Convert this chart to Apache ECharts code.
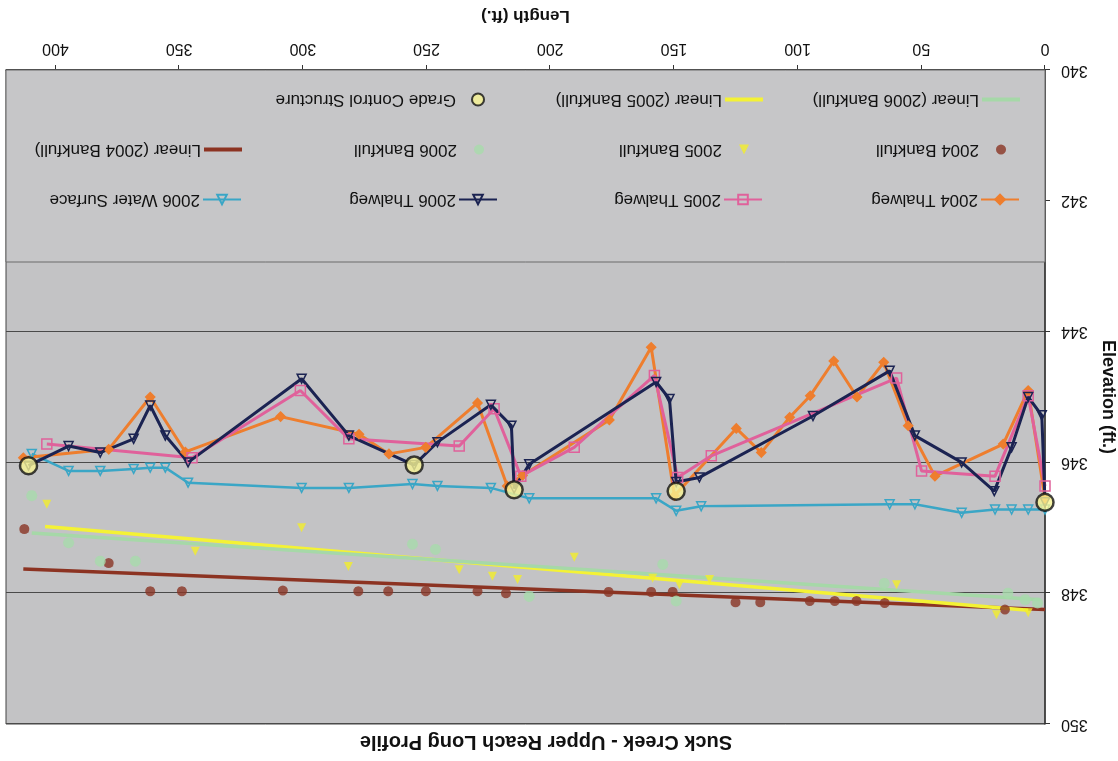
<!DOCTYPE html>
<html><head><meta charset="utf-8">
<script src="https://cdn.jsdelivr.net/npm/echarts@6/dist/echarts.min.js"></script>
<style>
html,body{margin:0;padding:0;background:#fff;}
#wrap{width:1118px;height:761px;transform:rotate(180deg);transform-origin:50% 50%;}
#chart{width:1118px;height:761px;}
</style></head><body>
<div id="wrap"><div id="chart"></div></div>
<script>
// ---- data: [length (ft), elevation (ft)] ----
const thalweg2004 = [[0,346.55],[6.8,344.9],[16.9,345.72],[44.5,346.21],[55.3,345.44],[65.2,344.47],[76,345.0],[85.4,344.45],[94.9,344.98],[103.2,345.31],[114.7,345.85],[124.8,345.48],[149.8,346.51],[159.2,344.24],[176.1,345.35],[211.2,346.2],[217.4,346.36],[229.4,345.09],[250.3,345.77],[265.2,345.87],[277.3,345.57],[309,345.3],[347.5,345.84],[361.7,345.0],[378.5,345.8],[413,345.93]];
const thalweg2005 = [[0,346.36],[6.8,344.98],[20.2,346.21],[49.9,346.13],[60,344.71],[134.9,345.9],[148.5,346.23],[157.9,344.67],[190.3,345.77],[211.9,346.21],[222.7,345.18],[236.8,345.75],[281.4,345.64],[301,344.9],[344.8,345.93],[403.5,345.72]];
const thalweg2006 = [[0,346.61],[1.3,345.28],[6.8,345.0],[13.5,345.77],[20.5,346.44],[33.7,346.0],[52.6,345.59],[62.8,344.6],[93.8,345.29],[139.7,346.23],[149.1,346.3],[151.8,345.03],[157.2,344.77],[208.5,346.03],[214.6,346.4],[215.7,345.44],[224,345.12],[245.6,345.69],[255,346.04],[281.4,345.59],[300.5,344.72],[346.4,346.0],[355.6,345.59],[361.7,345.13],[368.4,345.64],[381.9,345.85],[394.7,345.75],[410.9,346.05]];
const waterSurface2006 = [[0,346.72],[6.8,346.72],[13.5,346.72],[20.2,346.72],[33.7,346.77],[52.6,346.64],[62.8,346.64],[139,346.67],[149.1,346.74],[157.2,346.55],[208.5,346.55],[224,346.39],[245.6,346.36],[255.7,346.33],[281.4,346.39],[300.5,346.39],[346.4,346.31],[355.6,346.08],[361.7,346.08],[368.4,346.1],[381.9,346.13],[394.7,346.13],[409.6,345.87]];
const bankfull2004 = [[16.2,348.25],[64.8,348.15],[76.2,348.12],[85,348.12],[95.1,348.12],[115.1,348.14],[125.1,348.14],[150.5,347.98],[159.2,347.98],[176.4,347.98],[217.9,348.0],[229.4,347.97],[250.3,347.97],[265.5,347.97],[277.6,347.97],[308.1,347.96],[348.9,347.97],[361.7,347.97],[378.5,347.54],[412.6,347.02]];
const bankfull2005 = [[6.8,348.3],[19.6,348.33],[60,347.87],[135.6,347.79],[147.8,347.87],[158.6,347.77],[190.3,347.45],[213.2,347.79],[223.4,347.74],[236.8,347.64],[281.6,347.59],[300.5,347.0],[343.5,347.36],[403.5,346.64]];
const bankfull2006 = [[3,348.15],[8,348.1],[15,348.0],[65,347.85],[149.1,348.12],[154.5,347.56],[208.5,348.05],[246.4,347.33],[255.7,347.25],[367.7,347.51],[381.9,347.51],[394.7,347.23],[409.6,346.51]];
const trend2004 = [[0,348.25],[413,347.63]];
const trend2005 = [[6.8,348.26],[404.2,346.98]];
const trend2006 = [[2,348.1],[409.6,347.08]];
const gradeControl = [[0,346.61],[149.1,346.44],[214.6,346.42],[255,346.04],[410.9,346.05]];

const titleText = 'Suck Creek - Upper Reach Long Profile';
const xName = 'Length (ft.)';
const yName = 'Elevation (ft.)';

// ---- layout / styling ----
const FONT = '"Liberation Sans", Arial, sans-serif';
const C = {
  t04:'#ee7e2e', t05:'#e0619b', t06:'#1b2352', ws:'#3aa6c6',
  b04:'#8a3424', b05:'#f2ee2a', b06:'#a8dbab', l04:'#8c3322', l05:'#f4f235', l06:'#a6d8a8',
  gc:'#f8f492'
};
const cols = [93, 350, 615, 871];
const rows = [557, 607, 657];
const IW = 38;
// [name, col, row, itemWidth, itemHeight, icon]
const legendItems = [
  ['2004 Thalweg',0,0,IW,12],['2005 Thalweg',1,0,IW,12],['2006 Thalweg',2,0,IW,12],['2006 Water Surface',3,0,IW,12],
  ['2004 Bankfull',0,1,10,10],['2005 Bankfull',1,1,10,10],['2006 Bankfull',2,1,10,10],['Linear (2004 Bankfull)',3,1,IW,4,'rect'],
  ['Linear (2006 Bankfull)',0,2,IW,4,'rect'],['Linear (2005 Bankfull)',1,2,IW,4,'rect'],['Grade Control Structure',2,2,12,12]
];
const legends = legendItems.map(([name,c,r,w,h,icon]) => {
  const shift = (IW - w) / 2;
  return {
    data: [icon ? {name, icon} : {name}],
    left: cols[c] + shift, top: rows[r] - 9,
    itemWidth: w, itemHeight: h, itemGap: 0,
    selectedMode: false,
    textStyle: {fontFamily: FONT, fontSize: 17, color: '#111', padding: [0,0,0,shift - 2]}
  };
});

const chart = echarts.init(document.getElementById('chart'), null, {renderer:'canvas'});
const gridL = 73, gridR = 6, gridT = 37, gridB = 70;

function lineSeries(name, data, color, symbol, opts) {
  return Object.assign({
    name, type:'line', data, symbol, symbolSize: 9,
    lineStyle:{color, width:3},
    itemStyle:{color, borderColor: color, borderWidth: 1.5},
    emphasis:{disabled:true}, animation:false, z:3
  }, opts || {});
}

chart.setOption({
  backgroundColor:'#ffffff',
  animation:false,
  title: {
    text: titleText, left: 567, top: 4, textAlign:'center',
    textStyle:{fontFamily: FONT, fontSize: 20, fontWeight:'bold', color:'#111'}
  },
  legend: legends,
  grid: {left: gridL, right: gridR, top: gridT, bottom: gridB, show:true,
    backgroundColor:'#c3c3c5', borderColor:'#444', borderWidth:1, outerBoundsMode:'none'},
  graphic: [{
    type:'rect', z: 1, silent:true,
    shape:{x: gridL, y: 499, width: 1118 - gridL - gridR, height: 761 - gridB - 499},
    style:{fill:'#c6c6c8', stroke:'#6a6a6a', lineWidth:1}
  }],
  xAxis: {
    type:'value', min:0, max:420, interval:50,
    name: xName, nameLocation:'middle', nameGap: 46,
    nameTextStyle:{fontFamily: FONT, fontSize: 17, fontWeight:'bold', color:'#111'},
    axisLine:{show:true, lineStyle:{color:'#333', width:1.5}},
    axisTick:{show:true, inside:false, length:5, lineStyle:{color:'#333'}},
    axisLabel:{margin: 14, showMaxLabel:false, fontFamily: FONT, fontSize: 16, color:'#111'},
    splitLine:{show:false}
  },
  yAxis: {
    type:'value', min:340, max:350, interval:2,
    name: yName, nameLocation:'middle', nameGap: 51, nameRotate: 90,
    nameTextStyle:{fontFamily: FONT, fontSize: 18, fontWeight:'bold', color:'#111'},
    axisLine:{show:true, lineStyle:{color:'#333', width:1.5}},
    axisTick:{show:true, inside:false, length:5, lineStyle:{color:'#333'}},
    axisLabel:{margin: 16, fontFamily: FONT, fontSize: 16, color:'#111'},
    splitLine:{show:true, lineStyle:{color:'#4a4a4a', width:1.2}}
  },
  series: [
    {name:'Linear (2004 Bankfull)', type:'line', data: trend2004, symbol:'none', z:2,
      lineStyle:{color:C.l04, width:3.5}, itemStyle:{color:C.l04}, emphasis:{disabled:true}},
    {name:'Linear (2005 Bankfull)', type:'line', data: trend2005, symbol:'none', z:2,
      lineStyle:{color:C.l05, width:3.5}, itemStyle:{color:C.l05}, emphasis:{disabled:true}},
    {name:'Linear (2006 Bankfull)', type:'line', data: trend2006, symbol:'none', z:2,
      lineStyle:{color:C.l06, width:3.5}, itemStyle:{color:C.l06}, emphasis:{disabled:true}},
    {name:'2004 Bankfull', type:'scatter', data: bankfull2004, symbol:'circle', symbolSize:10, z:2,
      itemStyle:{color:C.b04}, emphasis:{disabled:true}},
    {name:'2005 Bankfull', type:'scatter', data: bankfull2005, symbol:'triangle', symbolSize:9, z:2,
      itemStyle:{color:C.b05}, emphasis:{disabled:true}},
    {name:'2006 Bankfull', type:'scatter', data: bankfull2006, symbol:'circle', symbolSize:11, z:2,
      itemStyle:{color:C.b06}, emphasis:{disabled:true}},
    lineSeries('2006 Water Surface', waterSurface2006, C.ws, 'triangle',
      {symbolSize:9, lineStyle:{color:C.ws, width:2.5},
       itemStyle:{color:'rgba(0,0,0,0)', borderColor:C.ws, borderWidth:1.5}}),
    lineSeries('2004 Thalweg', thalweg2004, C.t04, 'diamond', {symbolSize:9}),
    lineSeries('2005 Thalweg', thalweg2005, C.t05, 'rect',
      {symbolSize:10, itemStyle:{color:'rgba(0,0,0,0)', borderColor:C.t05, borderWidth:1.5}}),
    lineSeries('2006 Thalweg', thalweg2006, C.t06, 'triangle',
      {itemStyle:{color:'rgba(0,0,0,0)', borderColor:C.t06, borderWidth:1.5}}),
    {name:'Grade Control Structure', type:'scatter', data: gradeControl, symbol:'circle', symbolSize:17, z:5,
      itemStyle:{color:C.gc, borderColor:'#111', borderWidth:2.5}, emphasis:{disabled:true}}
  ]
});
</script>
</body></html>
